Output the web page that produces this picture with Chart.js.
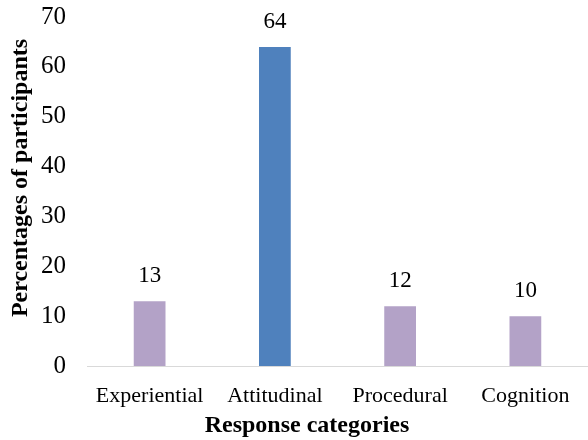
<!DOCTYPE html>
<html>
<head>
<meta charset="utf-8">
<script src="https://cdn.jsdelivr.net/npm/chart.js@4"></script>
<style>
  html, body { margin: 0; padding: 0; background: #fff; }
  #wrap { width: 588px; height: 440px; }
</style>
</head>
<body>
<div id="wrap"><canvas id="chart"></canvas></div>
<script>
// Chart data
const categories = ['Experiential', 'Attitudinal', 'Procedural', 'Cognition'];
const percentages = [13, 64, 12, 10];
const barColors = ['#B3A2C7', '#4F81BD', '#B3A2C7', '#B3A2C7'];
const yTicks = [0, 10, 20, 30, 40, 50, 60, 70];
const xTitle = 'Response categories';
const yTitle = 'Percentages of participants';

const serif = '"Liberation Serif", "Times New Roman", serif';

// value labels above bars + axis titles (placed like the original)
const chartText = {
  id: 'chartText',
  afterDraw(chart) {
    const ctx = chart.ctx;
    const meta = chart.getDatasetMeta(0);
    ctx.save();
    ctx.fillStyle = '#000';
    ctx.font = '23px ' + serif;
    ctx.textAlign = 'center';
    ctx.textBaseline = 'alphabetic';
    meta.data.forEach((bar, i) => {
      ctx.fillText(String(percentages[i]), bar.x, bar.y - 19);
    });
    ctx.font = 'bold 24px ' + serif;
    ctx.fillText(xTitle, 307, 432);
    ctx.translate(27, 178);
    ctx.rotate(-Math.PI / 2);
    ctx.fillText(yTitle, 0, 0);
    ctx.restore();
  }
};

new Chart(document.getElementById('chart'), {
  type: 'bar',
  data: {
    labels: categories,
    datasets: [{ data: percentages, backgroundColor: barColors, barPercentage: 0.507, categoryPercentage: 0.5 }]
  },
  options: {
    responsive: true, maintainAspectRatio: false, animation: false,
    layout: { padding: { top: 17, right: -4, left: 0, bottom: 0 } },
    plugins: { legend: { display: false }, tooltip: { enabled: false } },
    scales: {
      x: {
        grid: { display: false, drawTicks: false },
        border: { color: '#D9D9D9', width: 1 },
        ticks: { color: '#000', font: { family: serif, size: 22 }, padding: 17, maxRotation: 0 },
        afterFit: s => { s.height = 74; s.paddingLeft = 0; s.paddingRight = 0; }
      },
      y: {
        min: 0, max: 70,
        afterBuildTicks: s => { s.ticks = yTicks.map(v => ({ value: v })); },
        grid: { display: false, drawTicks: false },
        border: { display: false },
        ticks: { color: '#000', font: { family: serif, size: 25 }, padding: 21 },
        afterFit: s => { s.width = 87; s.paddingTop = 0; s.paddingBottom = 0; }
      }
    }
  },
  plugins: [chartText]
});
</script>
</body>
</html>
